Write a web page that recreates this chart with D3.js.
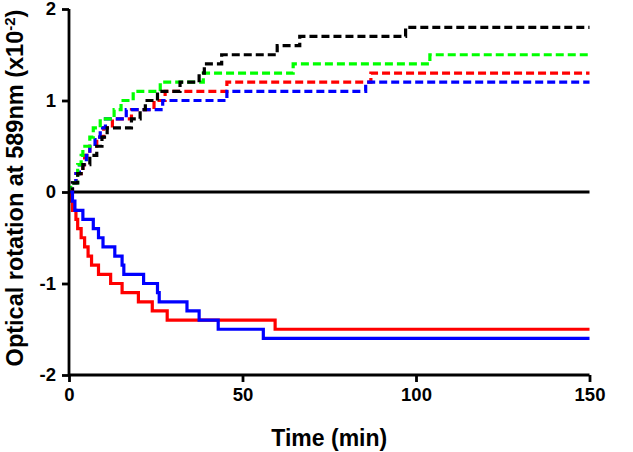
<!DOCTYPE html>
<html><head><meta charset="utf-8">
<script src="https://cdn.jsdelivr.net/npm/d3@7"></script>
<style>html,body{margin:0;padding:0;background:#fff;}svg{display:block;}</style>
</head><body>
<svg id="chart" width="633" height="452"></svg>
<script>
// Time (min), value (x10^-2)
const blackDashedT = [0,1,2.5,4,6,8,9.5,11,18,20.5,22,25.5,32,37.5,39,44,60,66.5,97,150];
const blackDashedV = [0,0.1,0.2,0.3,0.4,0.5,0.6,0.7,0.8,0.9,1.0,1.1,1.2,1.3,1.4,1.5,1.6,1.7,1.8,1.8];
const greenDashedT = [0,0.5,2.5,3.5,4,6,7,9,13,15,18.5,26.3,38.7,64.6,104,150];
const greenDashedV = [0,0.1,0.3,0.4,0.5,0.6,0.7,0.8,0.9,1.0,1.1,1.2,1.3,1.4,1.5,1.5];
const redDashedT = [0,1,2,4,4.5,6,8,10,12.5,18,24.5,27.7,45.5,87,150];
const redDashedV = [0,0.1,0.2,0.3,0.4,0.5,0.6,0.7,0.8,0.9,1.0,1.1,1.2,1.3,1.3];
const blueDashedT = [0,1,2,3,5,6,7.5,9,10.5,16.5,27,45.5,85.5,150];
const blueDashedV = [0,0.1,0.2,0.3,0.4,0.5,0.6,0.7,0.8,0.9,1.0,1.1,1.2,1.2];
const redSolidT = [0,0.5,1,2,2.5,3.5,4.5,5.5,6.5,8.5,12,15.3,20,24,28.3,59.4,150];
const redSolidV = [0,-0.1,-0.2,-0.3,-0.4,-0.5,-0.6,-0.7,-0.8,-0.9,-1.0,-1.1,-1.2,-1.3,-1.4,-1.5,-1.5];
const blueSolidT = [0,1,1.7,4,7,8.5,9.8,13.2,15.3,15.8,21.5,25.5,26,34,37.5,43,56,150];
const blueSolidV = [0,-0.1,-0.2,-0.3,-0.4,-0.5,-0.6,-0.7,-0.8,-0.9,-1.0,-1.1,-1.2,-1.3,-1.4,-1.5,-1.6,-1.6];

const xTicks = [0,50,100,150];
const yTicks = [-2,-1,0,1,2];

const svg = d3.select("#chart");
const x = d3.scaleLinear().domain([0,150]).range([69,589.5]);
const y = d3.scaleLinear().domain([-2,2]).range([375,9]);
const font = "'Liberation Sans', Arial, sans-serif";

const series = [
  {t: redDashedT, v: redDashedV, color: "#ff0000", dash: "8,4"},
  {t: blueDashedT, v: blueDashedV, color: "#0000ff", dash: "8,4"},
  {t: greenDashedT, v: greenDashedV, color: "#00ff00", dash: "8,4"},
  {t: blackDashedT, v: blackDashedV, color: "#000000", dash: "8,4"},
  {t: redSolidT, v: redSolidV, color: "#ff0000", dash: null},
  {t: blueSolidT, v: blueSolidV, color: "#0000ff", dash: null}
];

// zero line
svg.append("line").attr("x1", x(0)).attr("x2", x(150))
  .attr("y1", y(0)).attr("y2", y(0))
  .attr("stroke", "#000").attr("stroke-width", 2.8);

const line = d3.line().x(d => x(d[0])).y(d => y(d[1])).curve(d3.curveStepAfter);
series.forEach(s => {
  const pts = s.t.map((t,i) => [t, s.v[i]]);
  svg.append("path").attr("d", line(pts)).attr("fill","none")
    .attr("stroke", s.color).attr("stroke-width", 3.2)
    .attr("stroke-dasharray", s.dash);
});

// axes
const xAxis = svg.append("g").attr("transform", `translate(0,${y(-2)})`)
  .call(d3.axisBottom(x).tickValues(xTicks).tickSize(7).tickPadding(6).tickFormat(d => String(d)));
const yAxis = svg.append("g").attr("transform", `translate(${x(0)},0)`)
  .call(d3.axisLeft(y).tickValues(yTicks).tickSize(7).tickPadding(6).tickFormat(d => String(d)));
[xAxis, yAxis].forEach(g => {
  g.select(".domain").attr("stroke","#000").attr("stroke-width",2.8);
  g.selectAll(".tick line").attr("stroke","#000").attr("stroke-width",2.8);
  g.selectAll(".tick text").attr("fill","#000").style("font-family", font)
    .style("font-size","18.5px").style("font-weight","bold");
});
xAxis.select(".domain").attr("d", `M${x(0)},0H${x(150)}`);
yAxis.select(".domain").attr("d", `M0,${y(-2)}V${y(2)}`);

// titles
svg.append("text").attr("x", (x(0)+x(150))/2).attr("y", 446)
  .attr("text-anchor","middle").style("font-family", font)
  .style("font-size","23px").style("font-weight","bold").text("Time (min)");

const yl = svg.append("text")
  .attr("transform", `translate(23,${(y(-2)+y(2))/2 - 4}) rotate(-90)`)
  .attr("text-anchor","middle").style("font-family", font)
  .style("font-size","23.5px").style("font-weight","bold");
yl.append("tspan").text("Optical rotation at 589nm (x10");
yl.append("tspan").attr("dy", -8).style("font-size","15px").text("-2");
yl.append("tspan").attr("dy", 8).text(")");
</script>
</body></html>
